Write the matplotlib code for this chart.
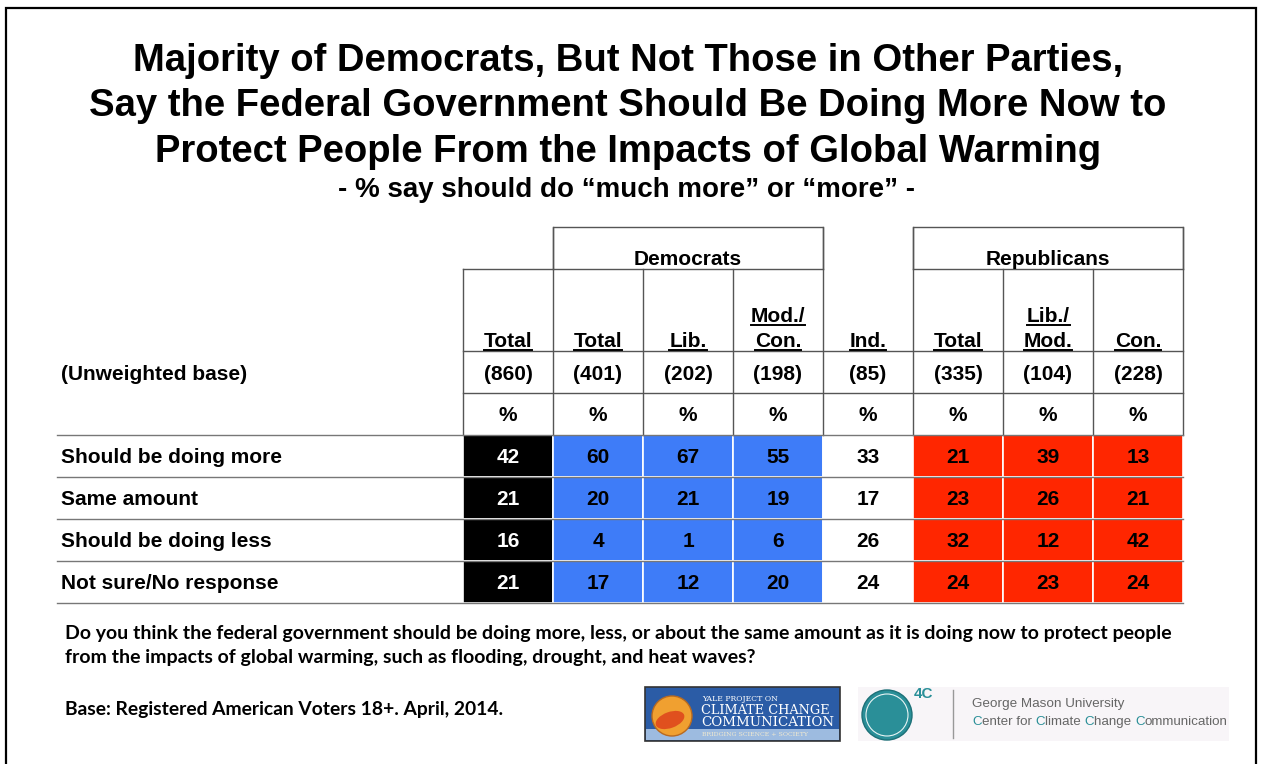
#!/usr/bin/env python3
"""Survey table: should the federal government do more to protect people
from the impacts of global warming, by party.
"""
import matplotlib
matplotlib.use("Agg")
import matplotlib.pyplot as plt
from matplotlib.patches import Rectangle, Circle, Ellipse

# --- Data ---
col_labels = ["Total", "Total", "Lib.", "Mod./\nCon.", "Ind.", "Total", "Lib./\nMod.", "Con."]
col_groups = ["all", "dem", "dem", "dem", "ind", "rep", "rep", "rep"]
bases = [860, 401, 202, 198, 85, 335, 104, 228]
row_labels = ["Should be doing more", "Same amount", "Should be doing less", "Not sure/No response"]
doing_more = [42, 60, 67, 55, 33, 21, 39, 13]
same_amount = [21, 20, 21, 19, 17, 23, 26, 21]
doing_less = [16, 4, 1, 6, 26, 32, 12, 42]
not_sure = [21, 17, 12, 20, 24, 24, 23, 24]
values = [doing_more, same_amount, doing_less, not_sure]

title_lines = ["Majority of Democrats, But Not Those in Other Parties,",
               "Say the Federal Government Should Be Doing More Now to",
               "Protect People From the Impacts of Global Warming"]
subtitle = "- % say should do \u201cmuch more\u201d or \u201cmore\u201d -"
question_lines = ["Do you think the federal government should be doing more, less, or about the same amount as it is doing now to protect people",
                  "from the impacts of global warming, such as flooding, drought, and heat waves?"]
base_note = "Base: Registered American Voters 18+. April, 2014."

# --- Styles ---
fill = {"all": "#000000", "dem": "#3e7cf8", "ind": "#ffffff", "rep": "#ff2600"}
txt_col = {"all": "white", "dem": "black", "ind": "black", "rep": "black"}
ARIAL = "Liberation Sans"
CALIBRI = "Lato"
FS = 15  # table font size
TEAL = "#2a8f98"

W, H = 1261, 764
fig = plt.figure(figsize=(W / 100, H / 100), dpi=100)
ax = fig.add_axes([0, 0, 1, 1])
ax.set_xlim(0, W)
ax.set_ylim(H, 0)
ax.axis("off")


def btext(x, y, s, **kw):
    """Bold Arial-like text placed by its visual (cap-height) centre."""
    size = kw.pop("fontsize", FS)
    off = 0.716 * size * 100 / 72 / 2
    return ax.text(x, y + off, s, va="baseline", fontsize=size, fontweight="bold",
                   family=ARIAL, **kw)


# outer frame
ax.plot([6, 6, 1256, 1256], [770, 8, 8, 770], color="black", lw=1.6, solid_joinstyle="miter")

# titles
for k, ln in enumerate(title_lines):
    btext(628, 57 + k * 45.5, ln, ha="center", fontsize=27.5)
btext(627, 187, subtitle, ha="center", fontsize=20)

# table geometry
x0, cw = 463, 90
ncol = len(col_labels)
edges = [x0 + i * cw for i in range(ncol + 1)]
y_grp, y_hdr, y_base, y_pct = 227, 269, 351, 393
y_data = 435
rh = 42
grid = "#555555"

# group header boxes
for name, c0, c1 in [("Democrats", 1, 4), ("Republicans", 5, 8)]:
    ax.plot([edges[c0], edges[c0], edges[c1], edges[c1]], [y_hdr, y_grp, y_grp, y_hdr],
            color=grid, lw=1)
    ax.plot([edges[c0], edges[c1]], [y_hdr, y_hdr], color=grid, lw=1)
    btext((edges[c0] + edges[c1]) / 2, 258, name, ha="center")
ax.plot([edges[0], edges[1]], [y_hdr, y_hdr], color=grid, lw=1)

# header verticals
for i, x in enumerate(edges):
    top = y_grp if i in (1, 4, 5, 8) else y_hdr
    ax.plot([x, x], [top, y_data], color=grid, lw=1)
for y in (y_base, y_pct):
    ax.plot([edges[0], edges[-1]], [y, y], color=grid, lw=1)

# header labels, underlined
fig.canvas.draw()
renderer = fig.canvas.get_renderer()
inv = ax.transData.inverted()
for i, lab in enumerate(col_labels):
    cx = (edges[i] + edges[i + 1]) / 2
    lines = lab.split("\n")
    for k, ln in enumerate(lines):
        yy = 340 - (len(lines) - 1 - k) * 25
        t = btext(cx, yy, ln, ha="center")
        bb = t.get_window_extent(renderer)
        (xa, _), (xb, _) = inv.transform([(bb.x0, bb.y0), (bb.x1, bb.y0)])
        ax.plot([xa, xb], [yy + 10, yy + 10], color="black", lw=1.4)
    btext(cx, 373, f"({bases[i]})", ha="center")
    btext(cx, 414, "%", ha="center")

btext(61, 373, "(Unweighted base)", ha="left")

# data rows
for r, (lab, vals) in enumerate(zip(row_labels, values)):
    top = y_data + r * rh
    ax.plot([57, edges[-1]], [top, top], color="#777777", lw=1)
    btext(61, top + rh / 2, lab, ha="left")
    for i, v in enumerate(vals):
        g = col_groups[i]
        ax.add_patch(Rectangle((edges[i], top), cw, rh, facecolor=fill[g],
                               edgecolor="white", lw=1.2))
        btext((edges[i] + edges[i + 1]) / 2, top + rh / 2, str(v), ha="center",
              color=txt_col[g])
ax.plot([57, edges[-1]], [y_data + 4 * rh, y_data + 4 * rh], color="#777777", lw=1)

# footer text
for k, ln in enumerate(question_lines):
    ax.text(65, 634 + k * 23, ln, ha="left", va="center", fontsize=14, fontweight="bold",
            family=CALIBRI)
ax.text(65, 710, base_note, ha="left", va="center", fontsize=13.9, fontweight="bold",
        family=CALIBRI)

# Yale logo
ax.add_patch(Rectangle((645, 687), 195, 54, facecolor="#2b5ca6", edgecolor="#333333", lw=1.2))
ax.add_patch(Rectangle((646, 729), 193, 11, facecolor="#9dbbe0", edgecolor="none"))
ax.add_patch(Circle((672, 716), 20, facecolor="#f0a030", edgecolor="#b86a20", lw=1))
ax.add_patch(Ellipse((670, 720), 30, 16, angle=-20, facecolor="#e0501e", edgecolor="none"))
ax.text(702, 699, "YALE PROJECT ON", fontsize=5.6, color="white", family="DejaVu Serif", va="center")
ax.text(701, 711, "CLIMATE CHANGE", fontsize=9.3, color="white", family="DejaVu Serif", va="center")
ax.text(701, 723, "COMMUNICATION", fontsize=9.6, color="white", family="DejaVu Serif", va="center")
ax.text(702, 734.5, "BRIDGING SCIENCE + SOCIETY", fontsize=4.5, color="#f2ead0",
        family="DejaVu Serif", va="center")

# GMU 4C logo
ax.add_patch(Rectangle((858, 687), 371, 54, facecolor="#f8f5f8", edgecolor="none"))
ax.add_patch(Circle((887, 715), 25, facecolor=TEAL, edgecolor="#1d7077", lw=1))
ax.add_patch(Circle((887, 715), 21, facecolor="none", edgecolor="#e8f4f4", lw=0.8))
ax.text(914, 694, "4C", fontsize=11, color=TEAL, family=ARIAL, fontweight="bold", va="center")
ax.plot([953, 953], [690, 738], color="#999999", lw=1)
ax.text(972, 704, "George Mason University", fontsize=9.7, color="#666666", family=ARIAL, va="center")

# second line, first letters of the key words in teal
fig.canvas.draw()
xcur = 972
for piece, col in [("C", TEAL), ("enter for ", "#666666"), ("C", TEAL), ("limate ", "#666666"),
                   ("C", TEAL), ("hange ", "#666666"), ("C", TEAL), ("ommunication", "#666666")]:
    t = ax.text(xcur, 722, piece, fontsize=9.6, color=col, family=ARIAL, va="center")
    bb = t.get_window_extent(renderer)
    xcur = inv.transform((bb.x1, bb.y0))[0]

fig.savefig("out.png", dpi=100)
